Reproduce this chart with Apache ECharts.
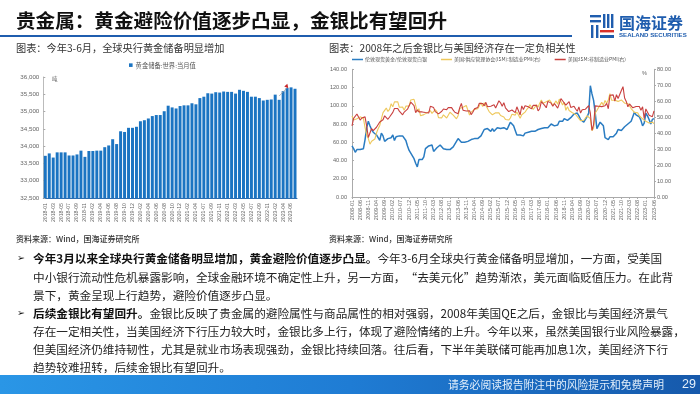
<!DOCTYPE html>
<html>
<head>
<meta charset="utf-8">
<title>贵金属</title>
<style>
  html, body { margin: 0; padding: 0; background: #fff; }
  #main { width: 700px; height: 394px; filter: blur(0.35px); }
</style>
<script src="https://cdn.jsdelivr.net/npm/echarts@6/dist/echarts.min.js"></script>
</head>
<body>
<div id="main"></div>
<script>
// left chart: gold reserves
const reserveMonths = [
  "2018-01","2018-02","2018-03","2018-04","2018-05","2018-06","2018-07","2018-08","2018-09","2018-10","2018-11",
  "2019-01","2019-02","2019-03","2019-04","2019-05","2019-06","2019-07","2019-08","2019-09","2019-10","2019-11","2019-12",
  "2020-01","2020-02","2020-03","2020-04","2020-05","2020-06","2020-07","2020-08","2020-09","2020-10","2020-11","2020-12",
  "2021-01","2021-02","2021-03","2021-04","2021-06","2021-07","2021-08","2021-09","2021-10","2021-11","2021-12",
  "2022-01","2022-02","2022-03","2022-04","2022-05","2022-06","2022-07","2022-08","2022-09","2022-10","2022-11",
  "2023-01","2023-02","2023-03","2023-04","2023-05","2023-06","2023-07"
];
const goldReserves = [
  33720,33790,33670,33820,33820,33820,33730,33730,33760,33870,33690,
  33860,33860,33870,33870,33970,34020,34200,34060,34430,34410,34530,34530,
  34560,34720,34750,34800,34870,34900,34900,35010,35170,35120,35090,35160,
  35180,35180,35240,35210,35390,35430,35530,35520,35560,35550,35580,
  35570,35570,35520,35630,35600,35570,35430,35430,35390,35320,35340,
  35350,35490,35340,35590,35680,35700,35660
];

// right chart: gold/silver ratio vs US PMI, monthly
const years = ["2008","2009","2010","2011","2012","2013","2014","2015","2016","2017","2018","2019","2020","2021","2022","2023"];
const months = ["01","02","03","04","05","06","07","08","09","10","11","12"];
const ratioMonths = years.flatMap(y => months.map(m => y + "-" + m)).slice(0, 186);
const goldSilverRatio = [
  56,53,49,52,51,52,52,53,63,76,83,78,
  74,71,70,68,66,62,70,67,61,63,64,65,
  65,68,62,66,64,67,65,67,66,62,56,51,
  48,46,42,37,33,41,43,41,44,53,51,56,
  55,57,50,52,54,56,57,55,53,53,52,54,
  52,54,55,58,61,64,66,60,59,60,62,61,
  62,63,63,64,65,64,66,67,69,74,73,75,
  73,72,75,72,74,76,74,75,73,76,75,74,
  78,82,80,78,73,68,66,68,69,67,70,69,
  71,70,72,73,72,73,74,75,75,74,76,77,
  76,78,80,80,78,80,79,83,84,83,86,85,
  84,86,87,88,91,93,92,89,85,84,82,85,
  88,92,122,113,106,92,75,77,82,82,78,65,
  67,63,66,68,66,68,70,74,75,73,74,77,
  79,80,81,83,82,93,90,91,88,84,78,81,
  92,89,85,80,85,86
];
const ismManufacturing = [
  50.7,48.3,49.0,49.0,49.6,50.2,50.0,49.2,43.5,38.9,36.6,33.1,
  34.9,35.8,36.3,40.1,42.8,44.8,48.9,52.9,52.6,55.7,53.6,54.9,
  58.4,56.5,59.6,60.4,59.7,56.2,55.5,56.3,54.4,56.9,57.7,57.0,
  60.8,61.4,61.2,60.4,53.5,55.3,50.9,50.6,51.6,50.8,52.7,53.9,
  54.1,52.4,53.4,54.8,53.5,49.7,49.8,49.6,51.5,51.7,49.5,50.2,
  53.1,54.2,51.3,50.7,49.0,50.9,55.4,55.7,56.2,56.4,57.3,57.0,
  51.3,53.2,53.7,54.9,55.4,55.3,57.1,59.0,56.6,59.0,58.7,55.5,
  53.5,52.9,51.5,51.5,52.8,53.5,52.7,51.1,50.2,50.1,48.6,48.2,
  48.2,49.5,51.8,50.8,51.3,53.2,52.6,49.4,51.5,51.9,53.2,54.7,
  56.0,57.7,57.2,54.8,54.9,57.8,56.3,58.8,60.8,58.7,58.2,59.7,
  59.1,60.8,59.3,57.3,58.7,60.2,58.1,61.3,59.8,57.7,59.3,54.3,
  56.6,54.2,55.3,52.8,52.1,51.7,51.2,49.1,47.8,48.3,48.1,47.2,
  50.9,50.1,49.1,41.5,43.1,52.6,54.2,56.0,55.4,59.3,57.5,60.5,
  58.7,60.8,64.7,60.7,61.2,60.6,59.5,59.9,61.1,60.8,61.1,58.8,
  57.6,58.6,57.1,55.4,56.1,53.0,52.8,52.8,50.9,50.2,49.0,48.4,
  47.4,47.7,46.3,47.1,46.9,46.0
];
const ismServices = [
  44.6,49.3,49.6,52.0,51.7,48.2,49.5,50.6,50.2,44.4,37.3,40.1,
  42.9,41.6,40.8,43.7,44.0,47.0,46.4,48.4,50.9,50.6,48.7,50.1,
  50.5,53.0,55.4,55.4,55.4,53.8,54.3,51.5,53.2,54.3,55.0,57.1,
  59.4,59.7,57.3,52.8,54.6,53.3,52.7,53.3,53.0,52.9,52.0,52.6,
  56.8,57.3,56.0,53.5,53.7,52.1,52.6,53.7,55.1,54.2,54.7,56.1,
  55.2,56.0,54.4,53.1,53.7,52.2,56.0,58.6,54.4,55.4,53.9,53.0,
  54.0,51.6,53.1,55.2,56.3,56.0,58.7,59.6,58.6,57.1,59.3,56.5,
  56.7,56.9,56.5,57.8,55.7,56.0,60.3,59.0,56.9,59.1,55.9,55.3,
  53.5,53.4,54.5,55.7,52.9,56.5,55.5,51.4,57.1,54.8,57.2,57.2,
  56.5,57.6,55.2,57.5,56.9,57.4,53.9,55.3,59.8,60.1,57.4,55.9,
  59.9,59.5,58.8,56.8,58.6,59.1,55.7,58.5,61.6,60.3,60.7,57.6,
  56.7,59.7,56.1,55.5,56.9,55.1,53.7,56.4,52.6,54.7,53.9,55.0,
  55.5,57.3,52.5,41.8,45.4,57.1,58.1,56.9,57.8,56.6,55.9,57.2,
  58.7,55.3,63.7,62.7,64.0,60.1,64.1,61.7,61.9,66.7,69.1,62.0,
  59.9,56.5,58.3,57.1,55.9,55.3,56.7,56.9,56.7,54.4,56.5,49.2,
  55.2,55.1,51.2,51.9,50.3,53.9
];

// slide text
const slideTitle = "贵金属：黄金避险价值逐步凸显，金银比有望回升";
const leftCaption = "图表：今年3-6月，全球央行黄金储备明显增加";
const rightCaption = "图表：2008年之后金银比与美国经济存在一定负相关性";
const sourceNote = "资料来源：Wind，国海证券研究所";
const footerNote = "请务必阅读报告附注中的风险提示和免费声明";
const pageNumber = "29";
const bodyLines = [
  ["{b|今年3月以来全球央行黄金储备明显增加，黄金避险价值逐步凸显。}今年3-6月全球央行黄金储备明显增加，一方面，受美国", 259],
  ["中小银行流动性危机暴露影响，全球金融环境不确定性上升，另一方面，“去美元化”趋势渐浓，美元面临贬值压力。在此背", 278],
  ["景下，黄金呈现上行趋势，避险价值逐步凸显。", 296],
  ["{b|后续金银比有望回升。}金银比反映了贵金属的避险属性与商品属性的相对强弱，2008年美国QE之后，金银比与美国经济景气", 314],
  ["存在一定相关性，当美国经济下行压力较大时，金银比多上行，体现了避险情绪的上升。今年以来，虽然美国银行业风险暴露，", 332],
  ["但美国经济仍维持韧性，尤其是就业市场表现强劲，金银比持续回落。往后看，下半年美联储可能再加息1次，美国经济下行", 350],
  ["趋势较难扭转，后续金银比有望回升。", 368]
];
const bulletRows = [259, 314];

const cjk = '"Noto Sans CJK SC", sans-serif';
const latin = '"Liberation Sans", Arial, sans-serif';

function label(text, x, y, size, color, extra) {
  return {
    type: "text",
    silent: true,
    style: Object.assign({
      text: text, x: x, y: y, fontSize: size, fill: color,
      fontFamily: cjk, verticalAlign: "middle", align: "left"
    }, extra || {})
  };
}
function box(x, y, w, h, fill) {
  return { type: "rect", silent: true, shape: { x: x, y: y, width: w, height: h }, style: { fill: fill } };
}

const logoBlue = "#1F5DAE";
const logoRed = "#D9312B";
const graphics = [
  label(slideTitle, 16, 21, 19.6, "#111", { fontWeight: 700 }),
  box(0, 35, 572, 2, logoBlue),

  // logo
  box(590, 15, 11, 2.4, logoBlue),
  box(590, 20, 11, 2.4, logoBlue),
  box(591, 25, 2.4, 13, logoBlue),
  box(596, 25, 2.4, 13, logoBlue),
  box(603, 14, 2.4, 14, logoBlue),
  box(607, 14, 2.4, 14, logoBlue),
  box(611, 14, 2.4, 14, logoBlue),
  box(600, 30, 14, 2.4, logoRed),
  box(600, 35, 14, 3, logoBlue),
  label("国海证券", 619, 23, 16, logoBlue, { fontWeight: 700 }),
  label("SEALAND SECURITIES", 619, 35.5, 6.1, logoBlue, { fontFamily: latin, fontWeight: 700 }),

  label(leftCaption, 16, 48, 10.2, "#333"),
  label(rightCaption, 329, 48, 10.2, "#333"),
  label("吨", 52, 79, 5.5, "#666"),
  label("%", 642, 73, 5.5, "#666", { fontFamily: latin }),
  label(sourceNote, 16, 239, 8, "#333", { fontWeight: 500 }),
  label(sourceNote, 329, 239, 8, "#333", { fontWeight: 500 }),

  // footer band
  {
    type: "rect", silent: true,
    shape: { x: 0, y: 375, width: 700, height: 19 },
    style: {
      fill: new echarts.graphic.LinearGradient(0, 0, 1, 0, [
        { offset: 0, color: "#2A96E6" },
        { offset: 0.5, color: "#1F7CD4" },
        { offset: 1, color: "#1659AB" }
      ])
    }
  },
  label(footerNote, 448, 385, 10.8, "#E4F0FB"),
  label(pageNumber, 682, 385, 12.5, "#E4F0FB", { fontFamily: latin })
];

bulletRows.forEach(function (y) {
  graphics.push(label("➢", 17, y, 9.5, "#111", { fontFamily: '"DejaVu Sans", sans-serif' }));
});
bodyLines.forEach(function (row) {
  graphics.push(label(row[0], 33, row[1], 11.65, "#222", {
    rich: { b: { fontSize: 11.65, fontWeight: 700, fill: "#111", fontFamily: cjk } }
  }));
});

const tickColor = "#aaa";
const textColor = "#666";

const option = {
  animation: false,
  graphic: { elements: graphics },
  legend: [
    {
      left: 129, top: 62, padding: 0,
      data: ["黄金储备:世界:当月值"],
      icon: "rect", itemWidth: 3.6, itemHeight: 3.6, itemGap: 4,
      textStyle: { fontSize: 6.3, color: "#555", fontFamily: cjk, padding: [0, 0, 0, -2] }
    },
    {
      left: 352, top: 57, padding: 0,
      data: ["伦敦现货黄金/伦敦现货白银", "美国:供应管理协会(ISM):制造业PMI(右)", "美国:ISM:非制造业PMI(右)"],
      icon: "rect", itemWidth: 11, itemHeight: 1.5, itemGap: 14,
      textStyle: { fontSize: 5, color: "#555", fontFamily: cjk, padding: [0, 0, 0, -3] }
    }
  ],
  grid: [
    { left: 43.3, top: 77, width: 253.7, height: 121 },
    { left: 352, top: 69.3, width: 302, height: 127.7 }
  ],
  xAxis: [
    {
      type: "category", gridIndex: 0, data: reserveMonths,
      axisTick: { show: false },
      axisLine: { lineStyle: { color: "#2C6DB0", width: 1 } },
      axisLabel: { interval: 1, rotate: 90, margin: 5, fontSize: 5.2, color: textColor, fontFamily: latin }
    },
    {
      type: "category", gridIndex: 1, data: ratioMonths, boundaryGap: false,
      axisTick: { alignWithLabel: true, interval: 4, length: 2, lineStyle: { color: tickColor } },
      axisLine: { lineStyle: { color: tickColor } },
      axisLabel: { interval: 4, rotate: 90, margin: 3, fontSize: 5.5, color: textColor, fontFamily: latin }
    }
  ],
  yAxis: [
    {
      type: "value", gridIndex: 0, min: 32500, max: 36000, interval: 500,
      splitLine: { show: false },
      axisLine: { show: true, lineStyle: { color: "#bbb" } },
      axisTick: { show: true, inside: true, length: 2, lineStyle: { color: tickColor } },
      axisLabel: {
        margin: 4, fontSize: 6.2, color: textColor, fontFamily: latin,
        formatter: function (v) { return v.toLocaleString("en-US"); }
      }
    },
    {
      type: "value", gridIndex: 1, min: 0, max: 140, interval: 20,
      splitLine: { show: false },
      axisLine: { show: true, lineStyle: { color: tickColor } },
      axisTick: { show: true, inside: true, length: 2, lineStyle: { color: tickColor } },
      axisLabel: {
        margin: 5, fontSize: 5.6, color: textColor, fontFamily: latin,
        formatter: function (v) { return v.toFixed(2); }
      }
    },
    {
      type: "value", gridIndex: 1, min: 0, max: 80, interval: 10, position: "right",
      splitLine: { show: false },
      axisLine: { show: true, lineStyle: { color: tickColor } },
      axisTick: { show: true, length: 2, lineStyle: { color: tickColor } },
      axisLabel: {
        margin: 3, fontSize: 5.6, color: textColor, fontFamily: latin,
        formatter: function (v) { return v.toFixed(2); }
      }
    }
  ],
  series: [
    {
      name: "黄金储备:世界:当月值", type: "bar",
      xAxisIndex: 0, yAxisIndex: 0,
      data: goldReserves, barCategoryGap: "25%",
      itemStyle: { color: "#1B74C2" },
      // small red arrow on the latest high
      markLine: {
        silent: true, symbol: "none", label: { show: false },
        lineStyle: { color: "#999", width: 0.7, type: "solid" },
        data: [[{ coord: ["2023-03", 35450] }, { coord: ["2023-05", 35690] }]]
      },
      markPoint: {
        silent: true, symbol: "triangle", symbolSize: 4, symbolRotate: -140,
        itemStyle: { color: "#C8282A" }, label: { show: false },
        data: [{ coord: ["2023-05", 35720] }]
      }
    },
    {
      name: "伦敦现货黄金/伦敦现货白银", type: "line",
      xAxisIndex: 1, yAxisIndex: 1,
      data: goldSilverRatio, showSymbol: false,
      lineStyle: { color: "#2A7CC2", width: 1.5 }, itemStyle: { color: "#2A7CC2" }
    },
    {
      name: "美国:供应管理协会(ISM):制造业PMI(右)", type: "line",
      xAxisIndex: 1, yAxisIndex: 2,
      data: ismManufacturing, showSymbol: false,
      lineStyle: { color: "#EEC85C", width: 1.1 }, itemStyle: { color: "#EEC85C" }
    },
    {
      name: "美国:ISM:非制造业PMI(右)", type: "line",
      xAxisIndex: 1, yAxisIndex: 2,
      data: ismServices, showSymbol: false,
      lineStyle: { color: "#C9403F", width: 1.1 }, itemStyle: { color: "#C9403F" }
    }
  ]
};

const chart = echarts.init(document.getElementById("main"));
chart.setOption(option);
</script>
</body>
</html>
